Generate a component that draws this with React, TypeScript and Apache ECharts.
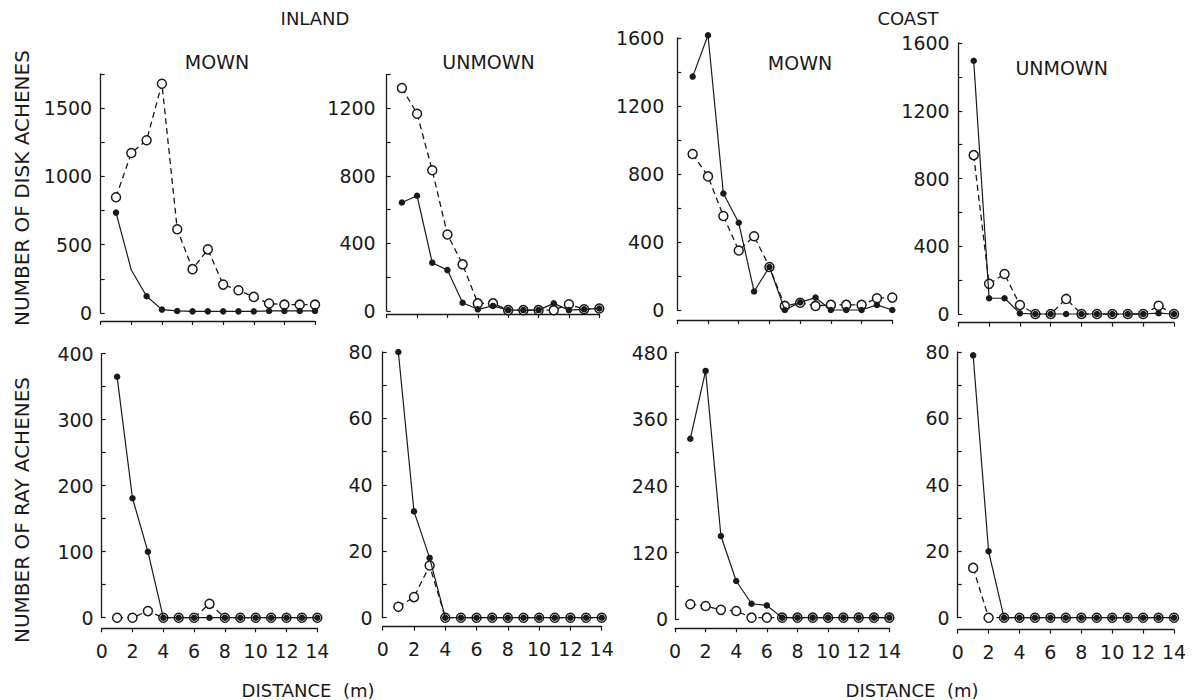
import React, { useEffect, useRef } from "react";
import * as echarts from "echarts";

// distance (m) of each sampling point
const DISTANCE = [1, 2, 3, 4, 5, 6, 7, 8, 9, 10, 11, 12, 13, 14];

// NUMBER OF DISK ACHENES
const INLAND_MOWN_DISK_FILLED = [735, 315, 123, 25, 15, 12, 12, 12, 12, 12, 15, 15, 15, 15];
const INLAND_MOWN_DISK_OPEN = [848, 1172, 1265, 1679, 613, 321, 466, 208, 167, 118, 69, 61, 61, 61];
const INLAND_MOWN_DISK_FILLED_NO_MARKER = [1];

const INLAND_UNMOWN_DISK_FILLED = [642, 682, 286, 242, 49, 10, 30, 5, 5, 5, 45, 5, 10, 15];
const INLAND_UNMOWN_DISK_OPEN = [1320, 1168, 833, 453, 276, 45, 45, 5, 5, 5, 5, 40, 10, 15];

const COAST_MOWN_DISK_FILLED = [1373, 1616, 685, 513, 109, 253, 0, 45, 73, 0, 0, 0, 30, 0];
const COAST_MOWN_DISK_OPEN = [918, 786, 553, 350, 434, 253, 24, 43, 24, 30, 30, 30, 69, 73];

const COAST_UNMOWN_DISK_FILLED = [1495, 93, 93, 4, 0, 0, 0, 0, 0, 0, 0, 0, 5, 0];
const COAST_UNMOWN_DISK_OPEN = [938, 178, 236, 53, 0, 0, 89, 0, 0, 0, 0, 0, 48, 0];

// NUMBER OF RAY ACHENES
const INLAND_MOWN_RAY_FILLED = [365, 181, 100, 0, 0, 0, 0, 0, 0, 0, 0, 0, 0, 0];
const INLAND_MOWN_RAY_OPEN = [0, 0, 10, 0, 0, 0, 21, 0, 0, 0, 0, 0, 0, 0];

const INLAND_UNMOWN_RAY_FILLED = [80, 32, 18, 0, 0, 0, 0, 0, 0, 0, 0, 0, 0, 0];
const INLAND_UNMOWN_RAY_OPEN = [3.3, 6.2, 15.7, 0, 0, 0, 0, 0, 0, 0, 0, 0, 0, 0];

const COAST_MOWN_RAY_FILLED = [325, 447, 150, 69, 28, 25, 3, 3, 3, 3, 3, 3, 3, 3];
const COAST_MOWN_RAY_OPEN = [27, 24, 17, 15, 3, 3, 3, 3, 3, 3, 3, 3, 3, 3];

const COAST_UNMOWN_RAY_FILLED = [79, 20, 0, 0, 0, 0, 0, 0, 0, 0, 0, 0, 0, 0];
const COAST_UNMOWN_RAY_OPEN = [15, 0, 0, 0, 0, 0, 0, 0, 0, 0, 0, 0, 0, 0];

// axis extents: [max, minor tick step, labelled step]
const Y_AXES = [
  [1750, 250, 500],
  [1400, 200, 400],
  [1600, 200, 400],
  [1600, 200, 400],
  [400, 50, 100],
  [80, 10, 20],
  [480, 60, 120],
  [80, 10, 20],
];

const PANEL_TITLES = ["MOWN", "UNMOWN", "MOWN", "UNMOWN"];
const SITE_TITLES = ["INLAND", "COAST"];
const Y_TITLES = ["NUMBER OF DISK ACHENES", "NUMBER OF RAY ACHENES"];
const X_TITLE = "DISTANCE  (m)";

const PANELS = [
  { filled: INLAND_MOWN_DISK_FILLED, open: INLAND_MOWN_DISK_OPEN, noMarker: INLAND_MOWN_DISK_FILLED_NO_MARKER },
  { filled: INLAND_UNMOWN_DISK_FILLED, open: INLAND_UNMOWN_DISK_OPEN, noMarker: [] },
  { filled: COAST_MOWN_DISK_FILLED, open: COAST_MOWN_DISK_OPEN, noMarker: [] },
  { filled: COAST_UNMOWN_DISK_FILLED, open: COAST_UNMOWN_DISK_OPEN, noMarker: [] },
  { filled: INLAND_MOWN_RAY_FILLED, open: INLAND_MOWN_RAY_OPEN, noMarker: [] },
  { filled: INLAND_UNMOWN_RAY_FILLED, open: INLAND_UNMOWN_RAY_OPEN, noMarker: [] },
  { filled: COAST_MOWN_RAY_FILLED, open: COAST_MOWN_RAY_OPEN, noMarker: [] },
  { filled: COAST_UNMOWN_RAY_FILLED, open: COAST_UNMOWN_RAY_OPEN, noMarker: [] },
];

// layout (pixels)
const GRIDS = [
  { left: 100.7, top: 74, width: 214.3, height: 239, xOff: 8, yOff: 1.5, lblM: 7 },
  { left: 386.7, top: 74.5, width: 212.6, height: 236.5, xOff: 3, yOff: 5, lblM: 6 },
  { left: 677.3, top: 38, width: 215, height: 272, xOff: 10, yOff: 1, lblM: 12 },
  { left: 958.3, top: 43, width: 215.7, height: 271, xOff: 8.7, yOff: 0.6, lblM: 8 },
  { left: 101.7, top: 353.7, width: 215.6, height: 264, xOff: 10.6, yOff: 0, lblM: 8 },
  { left: 382.7, top: 352, width: 219, height: 265.7, xOff: 9, yOff: 0, lblM: 10 },
  { left: 675, top: 352.6, width: 214.3, height: 266.7, xOff: 9, yOff: 1, lblM: 6 },
  { left: 957.7, top: 352, width: 216.3, height: 265.7, xOff: 12, yOff: 1, lblM: 7 },
];

const FONT = "DejaVu Sans";
const INK = "#1a1a1a";

export default function App() {
  const ref = useRef<HTMLDivElement>(null);

  useEffect(() => {
    if (!ref.current) return;
    const chart = echarts.init(ref.current, undefined, { renderer: "svg" });

    const grid = GRIDS.map((g) => ({
      left: g.left,
      top: g.top,
      width: g.width,
      height: g.height,
      containLabel: false,
    }));

    const xAxis = GRIDS.map((g, i) => ({
      type: "value",
      gridIndex: i,
      min: 0,
      max: 14,
      interval: 2,
      offset: g.xOff,
      axisLine: { show: true, onZero: false, lineStyle: { color: INK, width: 1.3 } },
      axisTick: { show: true, inside: false, length: 4, lineStyle: { color: INK, width: 1.2 } },
      axisLabel: {
        show: i >= 4,
        margin: 13,
        fontSize: 19,
        fontFamily: FONT,
        color: INK,
      },
      splitLine: { show: false },
    }));

    const yAxis = GRIDS.map((g, i) => {
      const [max, step, labelStep] = Y_AXES[i];
      return {
        type: "value",
        gridIndex: i,
        min: 0,
        max,
        interval: step,
        offset: g.yOff,
        axisLine: { show: true, lineStyle: { color: INK, width: 1.3 } },
        axisTick: { show: true, inside: true, length: 4, lineStyle: { color: INK, width: 1.2 } },
        axisLabel: {
          show: true,
          margin: g.lblM,
          fontSize: 19,
          fontFamily: FONT,
          color: INK,
          formatter: (v: number) => (Math.round(v) % labelStep === 0 ? String(Math.round(v)) : ""),
        },
        splitLine: { show: false },
      };
    });

    const series: any[] = [];
    PANELS.forEach((p, i) => {
      series.push({
        type: "line",
        name: "open-" + i,
        xAxisIndex: i,
        yAxisIndex: i,
        clip: false,
        data: DISTANCE.map((d, k) => [d, p.open[k]]),
        symbol: "circle",
        symbolSize: 9,
        showAllSymbol: true,
        z: 2,
        itemStyle: { color: "#fff", borderColor: INK, borderWidth: 1.5 },
        lineStyle: { color: INK, width: 1.3, type: [6, 4] },
      });
      series.push({
        type: "line",
        name: "filled-" + i,
        xAxisIndex: i,
        yAxisIndex: i,
        clip: false,
        data: DISTANCE.map((d, k) =>
          p.noMarker.includes(k)
            ? { value: [d, p.filled[k]], symbolSize: 0 }
            : [d, p.filled[k]]
        ),
        symbol: "circle",
        symbolSize: 6.5,
        showAllSymbol: true,
        z: 3,
        itemStyle: { color: INK, borderColor: INK, borderWidth: 0 },
        lineStyle: { color: INK, width: 1.2, type: "solid" },
      });
    });

    const textStyle = (size: number) => ({
      fill: INK,
      fontSize: size,
      fontFamily: FONT,
      align: "center",
      verticalAlign: "middle",
    });

    const titleCenters = [
      [217, 62],
      [488.5, 62],
      [800, 63],
      [1061.7, 68],
    ];

    const graphic: any[] = [];
    PANEL_TITLES.forEach((t, i) => {
      graphic.push({
        type: "text",
        x: titleCenters[i][0],
        y: titleCenters[i][1],
        style: { text: t, ...textStyle(19) },
      });
    });
    SITE_TITLES.forEach((t, i) => {
      graphic.push({
        type: "text",
        x: i === 0 ? 315 : 908,
        y: 18,
        style: { text: t, ...textStyle(18) },
      });
    });
    Y_TITLES.forEach((t, i) => {
      graphic.push({
        type: "text",
        x: 22,
        y: i === 0 ? 188 : 510,
        rotation: Math.PI / 2,
        style: { text: t, ...textStyle(20) },
      });
    });
    [308, 912].forEach((cx) => {
      graphic.push({
        type: "text",
        x: cx,
        y: 690,
        style: { text: X_TITLE, ...textStyle(18) },
      });
    });

    chart.setOption({
      animation: false,
      backgroundColor: "#fff",
      grid,
      xAxis,
      yAxis,
      series,
      graphic,
    });

    return () => {
      chart.dispose();
    };
  }, []);

  return (
    <div
      ref={ref}
      style={{ position: "fixed", left: 0, top: 0, width: 1196, height: 700, background: "#fff" }}
    />
  );
}
